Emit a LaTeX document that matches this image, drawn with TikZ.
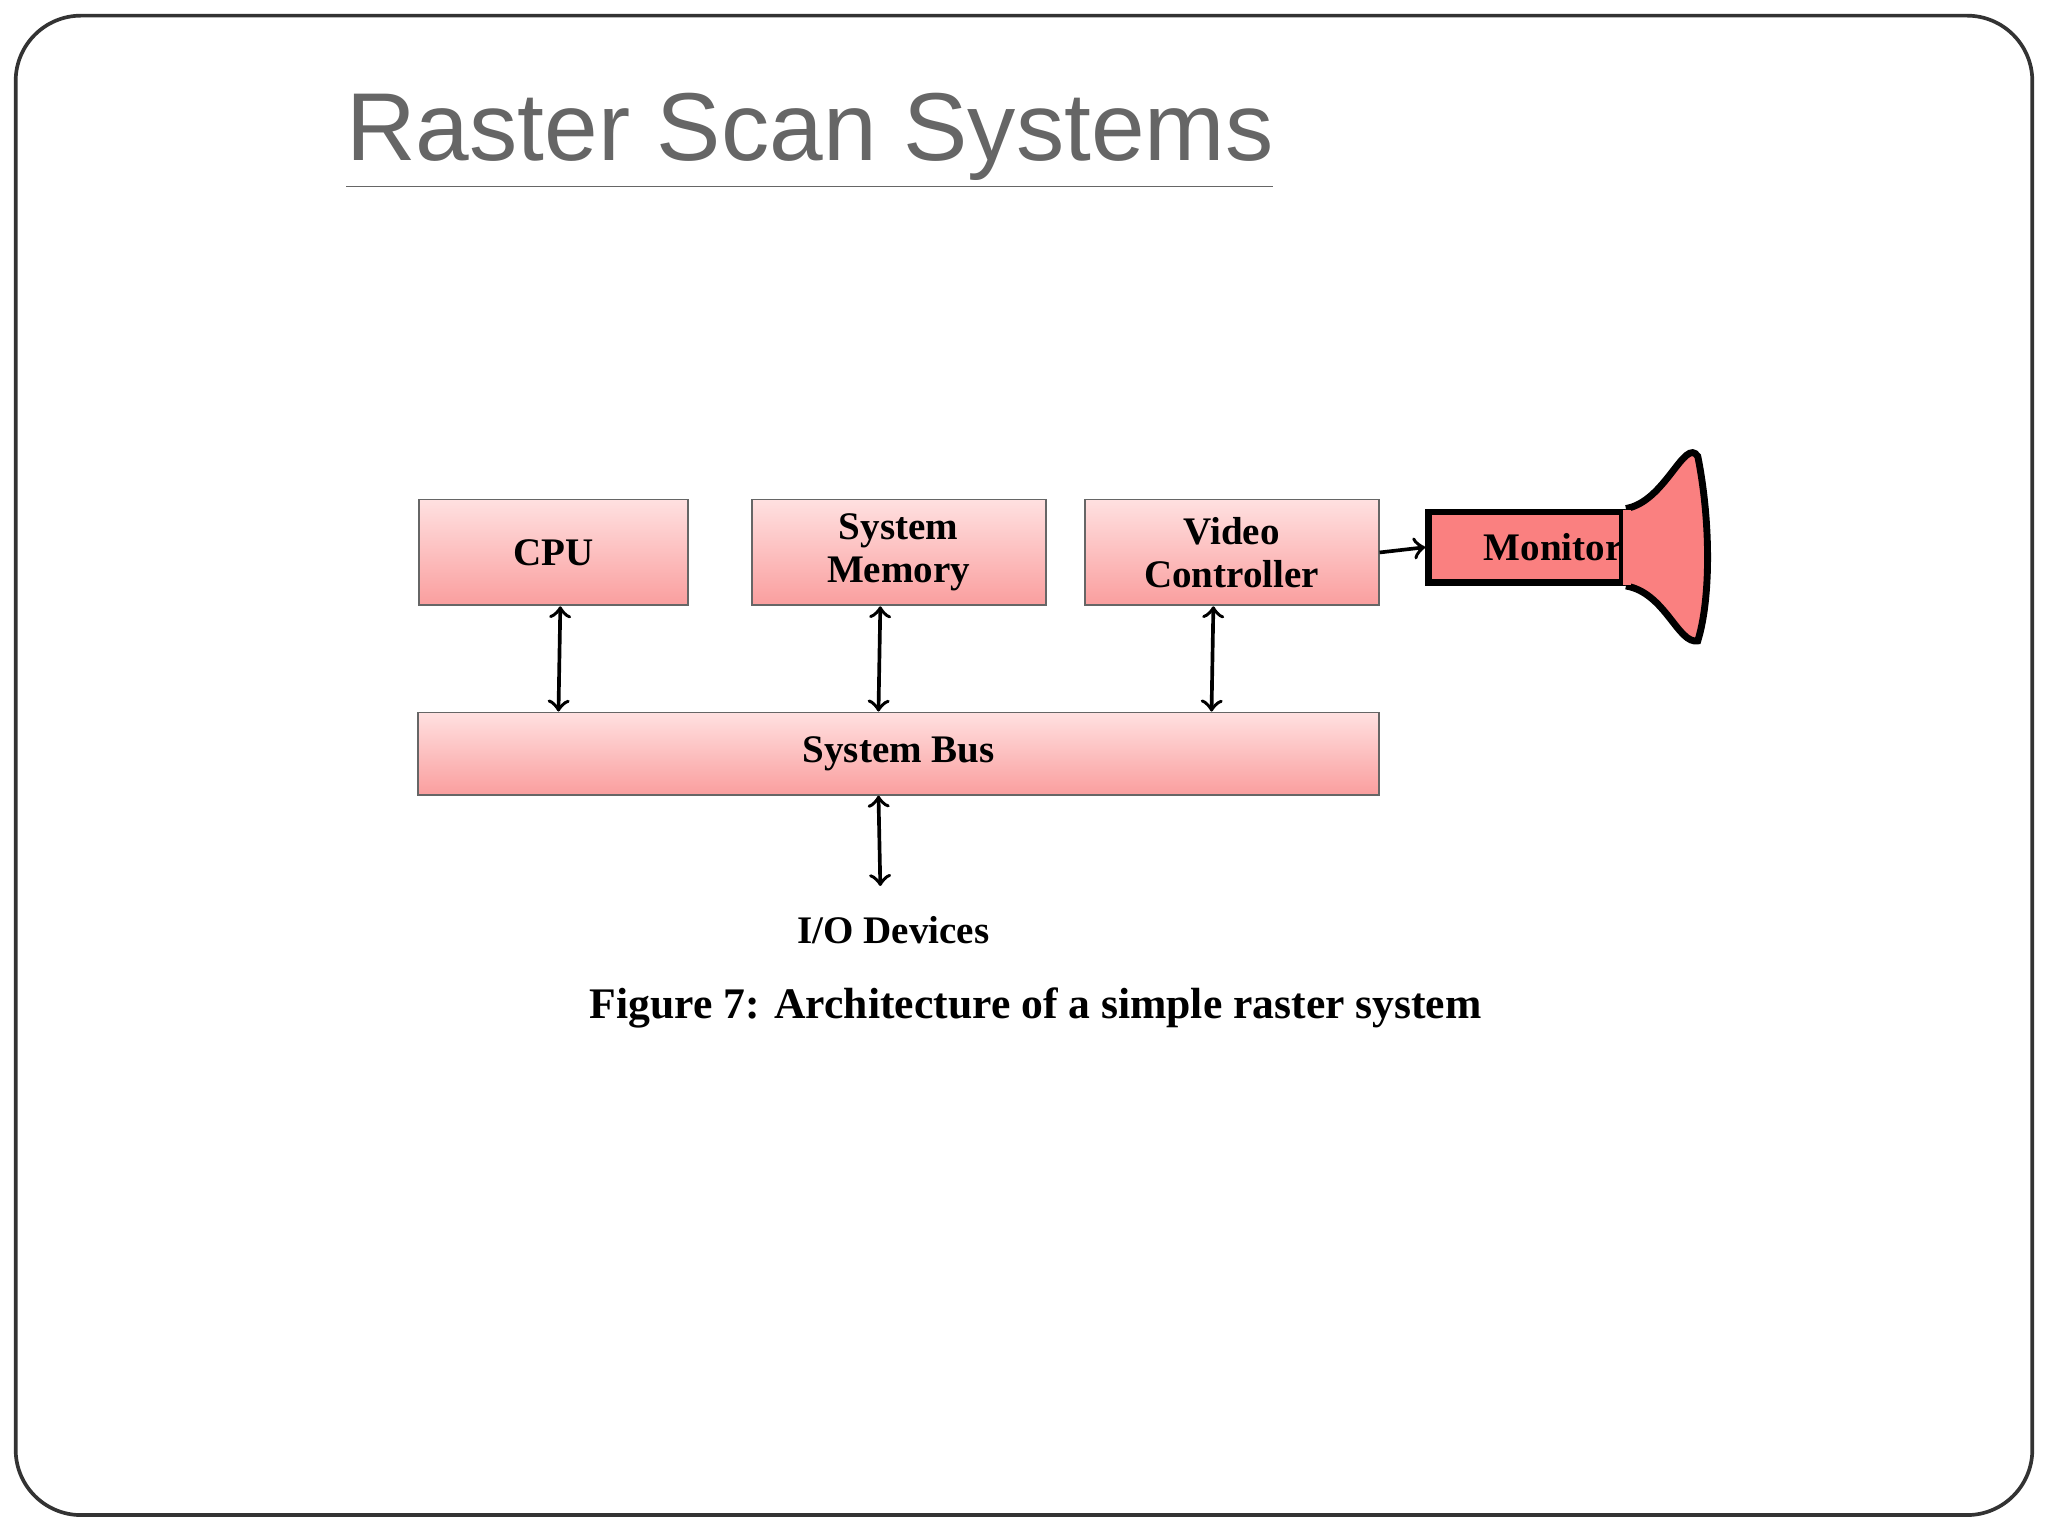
\documentclass[tikz,border=0pt]{standalone}
\usepackage{fontspec}
\setmainfont{Liberation Serif}
\newfontfamily\titlefont{Liberation Sans}
\usetikzlibrary{calc,arrows,positioning}
\definecolor{boxtop}{rgb}{1,.88,.88}
\definecolor{boxbot}{rgb}{.98,.62,.62}
\definecolor{monred}{rgb}{.98,.5,.5}
\definecolor{titlegray}{rgb}{.4,.4,.4}

\begin{document}
\begin{tikzpicture}[x=0.01cm,y=-0.01cm,thick,>=to]

  \tikzstyle{pinkbox}=[draw=black!60,thin,shape=rectangle,top color=boxtop,bottom color=boxbot,
    font=\bfseries\fontsize{8.5}{9.5}\selectfont,align=center,inner sep=0pt]
  \tikzstyle{plain}=[font=\bfseries\fontsize{8.5}{9.5}\selectfont]

  \useasboundingbox (0,0) rectangle (1568,1168);
  \draw[black!80,rounded corners=0.5cm] (12,12) rectangle (1556,1160);

  \node[font=\titlefont\fontsize{21}{24}\selectfont,text=titlegray] (title) at (620,108) {\underline{Raster Scan Systems}};

  \node[pinkbox,minimum width=2.06cm,minimum height=0.81cm] (cpu) at (424,423) {CPU};
  \node[pinkbox,minimum width=2.25cm,minimum height=0.81cm] (mem) at (688,423) {System\\Memory};
  \node[pinkbox,minimum width=2.25cm,minimum height=0.81cm] (vc)  at (943,423) {Video\\Controller};
  \node[pinkbox,minimum width=7.35cm,minimum height=0.63cm] (bus) at (688,577) {System Bus};
  \node[plain] (io) at (684,712) {I/O Devices};
  \node[plain,font=\bfseries\fontsize{9.5}{11}\selectfont] (cap) at (793,772) {Figure 7: Architecture of a simple raster system};

  % monitor
  \node[draw,line width=1.5pt,fill=monred,minimum width=1.27cm,minimum height=0.54cm,inner sep=0pt,
    font=\bfseries\fontsize{8.5}{9.5}\selectfont,text=black] (mon) at (1168,419) {\hspace*{12pt}Monitor};
  \draw[line width=1.5pt,fill=monred] (mon.north east) .. controls ($(mon.north east)+(30,-5)$) and ($(mon.north east)+(45,-55)$) .. ($(mon.north east)+(55,-40)$)
     .. controls ($(mon.north east)+(65,10)$) and ($(mon.south east)+(65,10)$) .. ($(mon.south east)+(55,42)$)
     .. controls ($(mon.south east)+(40,45)$) and ($(mon.south east)+(30,5)$) .. (mon.south east);
  \fill[monred] ($(mon.north east)+(-2,1)$) rectangle ($(mon.south east)+(4,-1)$);

  \draw[<->] ($(cpu.south)+(5,0)$) -- ($(bus.north west)+(108,0)$);
  \draw[<->] ($(mem.south)+(-14,0)$) -- ($(bus.north west)+(353,0)$);
  \draw[<->] ($(vc.south)+(-14,0)$) -- ($(bus.north west)+(608,0)$);
  \draw[<->] ($(bus.south west)+(353,0)$) -- ($(io.north)+(-10,-10)$);
  \draw[->] (vc.east) -- (mon.west);

\end{tikzpicture}
\end{document}
